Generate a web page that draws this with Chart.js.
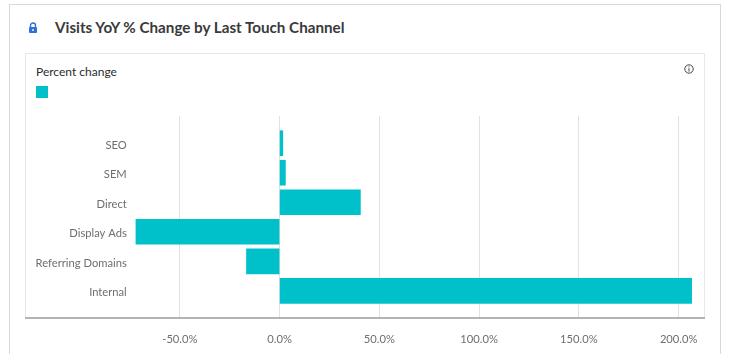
<!DOCTYPE html>
<html>
<head>
<meta charset="utf-8">
<script src="https://cdn.jsdelivr.net/npm/chart.js@4"></script>
<style>
    html, body { margin: 0; padding: 0; background: #fff; overflow: hidden; }
    body { width: 733px; height: 354px; position: relative; font-family: Lato, sans-serif; }
    .card { position: absolute; left: 9px; top: 4px; width: 712px; height: 360px; border: 1px solid #d8d8d8; box-sizing: border-box; }
    .panel { position: absolute; left: 25px; top: 53px; width: 680px; height: 265px; border: 1px solid #e8e8e8; border-bottom: 0; box-sizing: border-box; }
    .title { position: absolute; left: 55px; top: 18px; font-size: 15.2px; font-weight: 700; color: #3a3a3a; white-space: nowrap; }
    .series { position: absolute; left: 36px; top: 64px; font-size: 12px; color: #2c2c2c; white-space: nowrap; }
    .swatch { position: absolute; left: 36px; top: 86px; width: 12px; height: 12px; background: #00c1c9; }
    .lock { position: absolute; left: 28px; top: 22px; }
    .info { position: absolute; left: 684px; top: 64px; }
    #chartWrap { position: absolute; left: 25px; top: 116px; width: 680px; height: 238px; }
</style>
</head>
<body>
<div class="card"></div>
<div class="panel"></div>
<svg class="lock" width="10" height="12" viewBox="0 0 10 12">
    <path d="M2.5 5V3.5a2.5 2.5 0 0 1 5 0V5" fill="none" stroke="#2f6fdb" stroke-width="1.4"/>
    <rect x="1" y="5" width="8" height="6" rx="1" fill="#2f6fdb"/>
    <rect x="4.3" y="7" width="1.4" height="2" fill="#fff"/>
</svg>
<div class="title">Visits YoY % Change by Last Touch Channel</div>
<div class="series">Percent change</div>
<div class="swatch"></div>
<svg class="info" width="10" height="10" viewBox="0 0 10 10">
    <circle cx="5" cy="5" r="4.2" fill="none" stroke="#444" stroke-width="1"/>
    <rect x="4.5" y="4.2" width="1" height="3.4" fill="#444"/>
    <rect x="4.5" y="2.4" width="1" height="1" fill="#444"/>
</svg>
<div id="chartWrap"><canvas id="visitsChart" width="680" height="238"></canvas></div>

<script>
const categories = ['SEO', 'SEM', 'Direct', 'Display Ads', 'Referring Domains', 'Internal'];
const percentChange = [1.6, 2.9, 40.5, -72, -16.6, 206.5];
const xTickValues = [-50, 0, 50, 100, 150, 200];

const barColor = '#00c1c9';

new Chart(document.getElementById('visitsChart').getContext('2d'), {
    type: 'bar',
    data: {
        datasets: [
            {
                label: 'Percent change',
                data: categories.map((name, i) => ({ x: percentChange[i], y: i })),
                backgroundColor: barColor,
                borderWidth: 0,
                barThickness: 25,
            },
        ],
    },
    options: {
        indexAxis: 'y',
        responsive: false,
        animation: false,
        layout: { padding: 0 },
        plugins: {
            legend: { display: false },
            tooltip: { enabled: false },
        },
        scales: {
            x: {
                type: 'linear',
                min: -127.6,
                max: 213.2,
                afterBuildTicks: (axis) => { axis.ticks = xTickValues.map((value) => ({ value })); },
                // 축 끝까지 plot을 채우도록 라벨 여백 제거
                afterFit: (axis) => {
                    axis.height = 36;
                    axis.paddingLeft = 0;
                    axis.paddingRight = 0;
                },
                grid: { color: '#e2e2e2', lineWidth: 1, drawTicks: false },
                border: { color: '#b4b4b4', width: 2 },
                ticks: {
                    maxRotation: 0,
                    autoSkip: false,
                    padding: 15,
                    color: '#6e6e6e',
                    font: { family: 'Lato', size: 11.2 },
                    callback: (value) => `${value.toFixed(1)}%`,
                },
            },
            y: {
                type: 'linear',
                reverse: true,
                offset: false,
                min: -0.92,
                max: 5.92,
                position: { x: -76.6 },
                afterBuildTicks: (axis) => { axis.ticks = categories.map((name, i) => ({ value: i })); },
                afterFit: (axis) => {
                    axis.paddingTop = 0;
                    axis.paddingBottom = 0;
                },
                grid: { display: false, offset: false },
                border: { display: false },
                ticks: {
                    autoSkip: false,
                    padding: 0,
                    labelOffset: 2,
                    color: '#6e6e6e',
                    font: { family: 'Lato', size: 11.2 },
                    callback: (value) => categories[value],
                },
            },
        },
    },
});
</script>
</body>
</html>
